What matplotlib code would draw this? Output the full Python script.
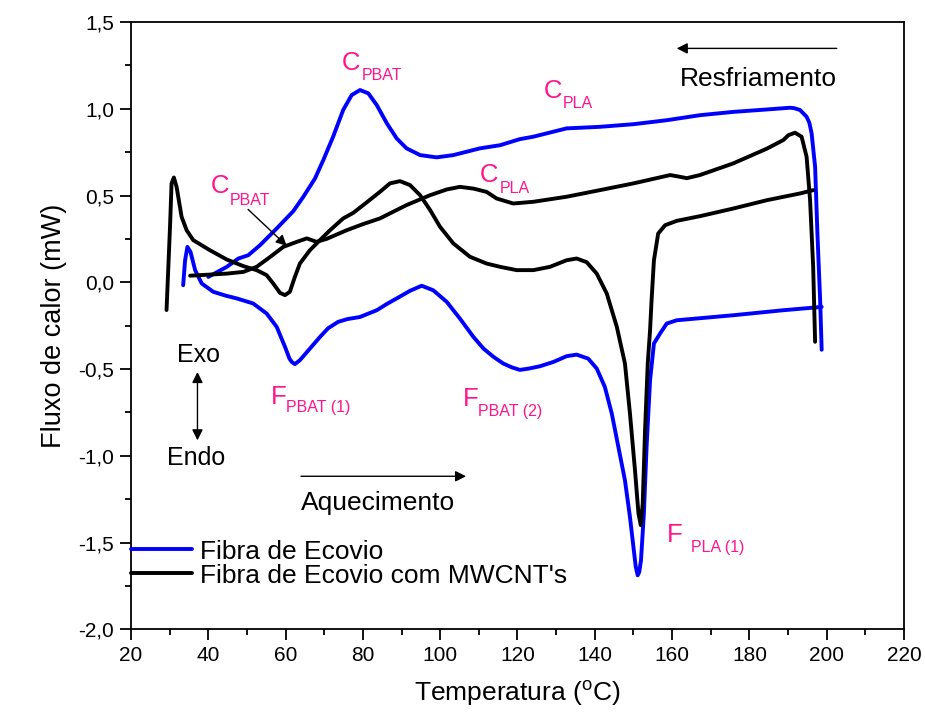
import matplotlib
matplotlib.use("Agg")
import matplotlib.pyplot as plt
from matplotlib.ticker import MultipleLocator, FuncFormatter

plt.rcParams['font.family'] = ['Liberation Sans', 'DejaVu Sans']
plt.rcParams['mathtext.fontset'] = 'custom'
plt.rcParams['mathtext.rm'] = 'Liberation Sans'
plt.rcParams['mathtext.it'] = 'Liberation Sans'
plt.rcParams['mathtext.bf'] = 'Liberation Sans'

# --- DSC curves: temperature (°C) and heat flow (mW) ---
eco_heat_T = [33.5, 34.0, 34.6, 35.4, 36.6, 38.3, 41.3, 44.5, 47.35, 51.6, 55.1, 57.7, 59.85,
              61.0, 61.6, 62.4, 63.7, 66.3, 68.9, 71.0, 73.6, 76.0, 79.25, 83.6, 86.2, 88.75,
              92.2, 95.2, 98.2, 101.7, 105.1, 108.6, 111.2, 113.8, 116.3, 118.5, 120.6, 123.0,
              125.8, 129.3, 132.7, 135.3, 138.3, 140.5, 142.6, 144.4, 146.1, 147.8, 149.1, 150.1,
              150.6, 151.1, 151.5, 151.95, 152.7, 153.4, 154.3, 155.3, 156.9, 158.6, 161.2,
              175.8, 188.8, 198.7]
eco_heat_Q = [-0.017, 0.127, 0.204, 0.175, 0.07, -0.007, -0.055, -0.077, -0.093, -0.122, -0.18, -0.257, -0.372,
              -0.44, -0.459, -0.472, -0.449, -0.382, -0.315, -0.265, -0.228, -0.212, -0.20, -0.161, -0.125, -0.093,
              -0.049, -0.02, -0.046, -0.113, -0.209, -0.315, -0.382, -0.43, -0.468, -0.49, -0.505, -0.497,
              -0.484, -0.459, -0.426, -0.417, -0.44, -0.497, -0.603, -0.757, -0.949, -1.141, -1.353, -1.545,
              -1.64, -1.689, -1.67, -1.603, -1.333, -0.949, -0.565, -0.353, -0.295, -0.238, -0.219,
              -0.19, -0.161, -0.142]

eco_cool_T = [198.7, 198.3, 197.6, 197.0, 196.1, 195.5, 194.8, 193.1, 191.5, 190.5, 184.5, 175.8,
              167.2, 158.6, 149.96, 141.3, 132.7, 124.1, 120.6, 115.5, 110.3, 103.4, 99.1, 94.8,
              91.3, 88.75, 86.2, 83.6, 81.4, 79.25, 77.1, 74.9, 72.3, 69.75, 67.6, 64.6, 62.0,
              57.7, 53.4, 50.35, 47.8, 44.8, 40.0]
eco_cool_Q = [-0.389, -0.10, 0.28, 0.666, 0.858, 0.92, 0.954, 0.993, 1.004, 1.006, 0.996, 0.982,
              0.963, 0.934, 0.911, 0.896, 0.887, 0.839, 0.825, 0.79, 0.772, 0.733, 0.72, 0.733,
              0.772, 0.829, 0.916, 1.021, 1.089, 1.108, 1.079, 0.993, 0.839, 0.704, 0.598, 0.493, 0.41,
              0.31, 0.214, 0.156, 0.137, 0.089, 0.031]

cnt_heat_T = [29.2, 30.1, 30.5, 31.1, 31.8, 33.1, 34.4, 36.1, 40.4, 44.8, 49.1, 52.5, 55.1, 56.8,
              58.55, 59.85, 61.1, 62.4, 63.7, 66.3, 68.9, 71.5, 74.9, 77.5, 80.1, 84.4, 87.0, 89.6,
              92.2, 94.8, 97.4, 99.95, 103.4, 107.7, 112.0, 115.5, 119.8, 124.1, 128.4, 132.7,
              135.3, 137.9, 140.5, 143.1, 145.7, 147.8, 149.1, 150.4, 151.3, 151.9, 152.4, 153.0,
              153.7, 154.3, 154.7, 155.3, 156.4, 158.2, 161.2, 167.2, 175.8, 184.5, 193.1, 196.5]
cnt_heat_Q = [-0.16, 0.32, 0.57, 0.604, 0.55, 0.377, 0.30, 0.243, 0.185, 0.131, 0.093, 0.07, 0.041, -0.007,
              -0.061, -0.074, -0.055, 0.031, 0.108, 0.185, 0.243, 0.30, 0.368, 0.40, 0.445, 0.521, 0.57, 0.583,
              0.56, 0.502, 0.416, 0.32, 0.224, 0.147, 0.108, 0.089, 0.07, 0.07, 0.089, 0.127,
              0.137, 0.116, 0.05, -0.065, -0.257, -0.468, -0.757, -1.084, -1.333, -1.40, -1.276, -0.853,
              -0.468, -0.276, -0.10, 0.127, 0.281, 0.329, 0.354, 0.381, 0.425, 0.473, 0.512, 0.531]

cnt_cool_T = [197.0, 196.5, 195.7, 194.8, 193.5, 191.8, 190.1, 188.8, 184.5, 175.8, 167.2, 163.8,
              162.0, 159.5, 150.0, 141.3, 132.7, 124.1, 118.9, 114.6, 112.0, 108.6, 105.1, 101.7,
              97.4, 91.3, 84.4, 80.0, 75.8, 70.6, 68.0, 65.5, 62.9, 59.4, 56.0, 52.5, 49.1, 44.8,
              35.3]
cnt_cool_Q = [-0.343, 0.089, 0.473, 0.723, 0.839, 0.862, 0.848, 0.82, 0.77, 0.685, 0.618, 0.60,
              0.608, 0.618, 0.57, 0.531, 0.493, 0.464, 0.454, 0.483, 0.521, 0.54, 0.55, 0.535,
              0.502, 0.445, 0.368, 0.335, 0.30, 0.25, 0.233, 0.253, 0.233, 0.204, 0.146, 0.089, 0.06, 0.05,
              0.038]

series_labels = ["Fibra de Ecovio", "Fibra de Ecovio com MWCNT's"]
x_ticks = [20, 40, 60, 80, 100, 120, 140, 160, 180, 200, 220]
y_ticks = [-2.0, -1.5, -1.0, -0.5, 0.0, 0.5, 1.0, 1.5]

BLUE = '#0000FF'
PINK = '#FF148C'
LW = 2.8

fig = plt.figure(figsize=(9.25, 7.22), dpi=100)
ax = fig.add_axes([0.1416, 0.1284, 0.8357, 0.8411])

line_kw = dict(lw=LW, solid_joinstyle='round', solid_capstyle='round')
l1, = ax.plot(eco_heat_T, eco_heat_Q, color=BLUE, **line_kw)
ax.plot(eco_cool_T, eco_cool_Q, color=BLUE, **line_kw)
l2, = ax.plot(cnt_heat_T, cnt_heat_Q, color='black', **line_kw)
ax.plot(cnt_cool_T, cnt_cool_Q, color='black', **line_kw)

ax.set_xlim(20, 220)
ax.set_ylim(-2.0, 1.5)
ax.set_xticks(x_ticks)
ax.set_yticks(y_ticks)
ax.xaxis.set_minor_locator(MultipleLocator(10))
ax.yaxis.set_minor_locator(MultipleLocator(0.25))
ax.yaxis.set_major_formatter(FuncFormatter(lambda v, p: f"{v:.1f}".replace('.', ',')))
ax.tick_params(axis='both', which='major', direction='out', length=8, width=1.3,
               labelsize=15, pad=4)
ax.tick_params(axis='both', which='minor', direction='out', length=4, width=1.3)
for s in ax.spines.values():
    s.set_linewidth(1.3)

ax.set_xlabel('Temperatura ($^{\\mathregular{o}}$C)', fontsize=19, labelpad=10)
ax.set_ylabel('Fluxo de calor (mW)', fontsize=19.5, labelpad=8)

# peak labels: main letter plus smaller subscript
def peak_label(x, y, main, sub, xs, ys):
    ax.text(x, y, main, color=PINK, fontsize=18.5, ha='left', va='baseline')
    ax.text(xs, ys, sub, color=PINK, fontsize=11.5, ha='left', va='baseline')

peak_label(74.6, 1.223, 'C', 'PBAT', 79.7, 1.166)
peak_label(40.6, 0.512, 'C', 'PBAT', 45.6, 0.445)
peak_label(126.7, 1.06, 'C', 'PLA', 131.7, 1.002)
peak_label(110.3, 0.579, 'C', 'PLA', 115.5, 0.516)
peak_label(56.1, -0.704, 'F', 'PBAT (1)', 60.1, -0.749)
peak_label(105.8, -0.715, 'F', 'PBAT (2)', 109.7, -0.772)
peak_label(158.6, -1.497, 'F', 'PLA (1)', 164.8, -1.555)

arrow_kw = dict(arrowstyle='-|>', color='black', lw=1.0, mutation_scale=16,
                shrinkA=0, shrinkB=0)
ax.annotate('', xy=(60.3, 0.21), xytext=(50.3, 0.42), arrowprops=arrow_kw)
ax.annotate('', xy=(161.2, 1.348), xytext=(202.6, 1.348), arrowprops=arrow_kw)
ax.annotate('', xy=(106.7, -1.118), xytext=(64.0, -1.118), arrowprops=arrow_kw)
ax.annotate('', xy=(37.2, -0.911), xytext=(37.2, -0.517),
            arrowprops=dict(arrowstyle='<|-|>', color='black', lw=1.0, mutation_scale=16,
                            shrinkA=0, shrinkB=0))

ax.text(162.0, 1.131, 'Resfriamento', fontsize=19, ha='left', va='baseline')
ax.text(64.0, -1.315, 'Aquecimento', fontsize=19, ha='left', va='baseline')
ax.text(31.8, -0.459, 'Exo', fontsize=18, ha='left', va='baseline')
ax.text(29.2, -1.055, 'Endo', fontsize=18, ha='left', va='baseline')

ax.legend([l1, l2], series_labels, loc='center left', bbox_to_anchor=(0.0, 0.108),
          frameon=False, fontsize=19, borderpad=0, borderaxespad=0,
          handlelength=2.3, handletextpad=0.3, labelspacing=0.0)

fig.savefig('out.png', dpi=100)
